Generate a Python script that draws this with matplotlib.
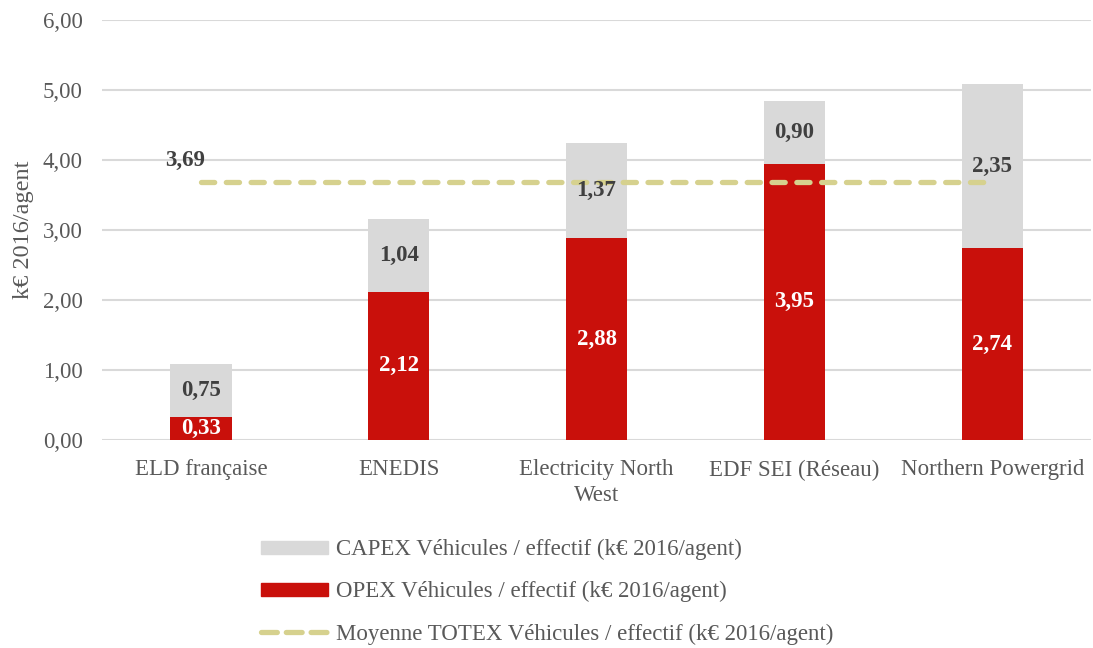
import numpy as np
import matplotlib.pyplot as plt
from matplotlib.ticker import FuncFormatter
from matplotlib.patches import Patch
from matplotlib.lines import Line2D

plt.rcParams['font.family'] = ['Liberation Serif', 'DejaVu Serif']

categories = ['ELD française', 'ENEDIS', 'Electricity North\nWest', 'EDF SEI (Réseau)', 'Northern Powergrid']
opex = [0.33, 2.12, 2.88, 3.95, 2.74]
capex = [0.75, 1.04, 1.37, 0.90, 2.35]
moyenne = 3.69

col_capex = '#D9D9D9'
col_opex = '#C9100B'
col_line = '#D6D18E'
col_text = '#595959'
col_lab = '#404040'
fs = 16.5

fig = plt.figure(figsize=(10.93, 6.48), dpi=100)
ax = fig.add_axes([0.0933, 0.321, 0.905, 0.648])

x = np.arange(len(categories))
w = 0.31
ax.bar(x, opex, w, color=col_opex, zorder=2)
ax.bar(x, capex, w, bottom=opex, color=col_capex, zorder=2)
ax.plot([x[0], x[-1]], [moyenne, moyenne], color=col_line, lw=3.8,
        dashes=(2.5, 2.2), dash_capstyle='round', zorder=3)

for i in range(len(x)):
    ax.text(x[i], opex[i] / 2, f'{opex[i]:.2f}'.replace('.', ','), ha='center', va='center',
            color='white', fontsize=fs, fontweight='bold', zorder=4)
    ax.text(x[i], opex[i] + capex[i] / 2, f'{capex[i]:.2f}'.replace('.', ','), ha='center', va='center',
            color=col_lab, fontsize=fs, fontweight='bold', zorder=4)
ax.text(x[0] - 0.08, moyenne + 0.3, f'{moyenne:.2f}'.replace('.', ','), ha='center', va='center',
        color=col_lab, fontsize=fs, fontweight='bold')

ax.set_xlim(-0.5, len(x) - 0.5)
ax.set_ylim(0, 6)
ax.set_yticks(np.arange(0, 7, 1))
ax.yaxis.set_major_formatter(FuncFormatter(lambda v, p: f'{v:.2f}'.replace('.', ',')))
ax.set_xticks(x)
ax.set_xticklabels(categories, linespacing=1.3)
ax.tick_params(length=0, labelsize=fs, colors=col_text)
ax.tick_params(axis='x', pad=14)
ax.tick_params(axis='y', pad=14)
ax.grid(axis='y', color='#D9D9D9', lw=1.5, zorder=0)
for s in ax.spines.values():
    s.set_visible(False)
ax.set_ylabel('k€ 2016/agent', fontsize=fs + 1, color=col_text, labelpad=6)

handles = [Patch(color=col_capex), Patch(color=col_opex),
           Line2D([0], [0], color=col_line, lw=3.8, dashes=(3.0, 1.7), dash_capstyle='round')]
labels = ['CAPEX Véhicules / effectif (k€ 2016/agent)',
          'OPEX Véhicules / effectif (k€ 2016/agent)',
          'Moyenne TOTEX Véhicules / effectif (k€ 2016/agent)']
leg = fig.legend(handles, labels, loc='upper left', bbox_to_anchor=(0.22, 0.2), frameon=False,
                 fontsize=fs, handlelength=2.9, handleheight=0.5, labelspacing=0.92, handletextpad=0.35)
for t in leg.get_texts():
    t.set_color(col_text)

fig.savefig('out.png', dpi=100)
